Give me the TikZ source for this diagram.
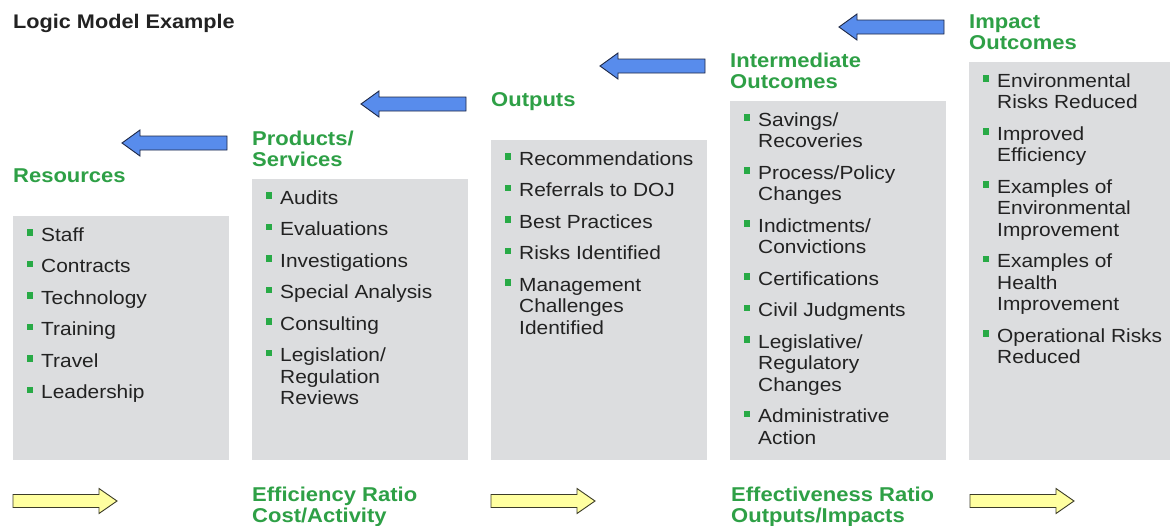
\documentclass[tikz,border=0pt]{standalone}
\usepackage{fontspec}
\setmainfont{Liberation Sans}[FakeStretch=1.1]
\definecolor{hgreen}{RGB}{46,160,70}
\definecolor{bgreen}{RGB}{40,170,70}
\definecolor{boxgray}{RGB}{220,221,223}
\definecolor{txtcol}{RGB}{34,34,34}
\definecolor{arrblue}{RGB}{88,140,236}
\definecolor{arrblueline}{RGB}{30,40,70}
\definecolor{arryel}{RGB}{255,255,160}
\definecolor{arryelline}{RGB}{60,60,40}
\newcommand{\blt}{\leavevmode\llap{\textcolor{bgreen}{\rule[5.5pt]{6.5pt}{6.5pt}}\hspace{8pt}}}
\newcommand{\itemlist}[1]{\vtop{\hsize=200pt\parindent=0pt\parskip=10pt\raggedright #1\par}}
\newcommand{\bluearrow}[2]{\draw[bluearr] (#1,#2) -- ++(18,-13) -- ++(0,6) -- ++(87,0) -- ++(0,14) -- ++(-87,0) -- ++(0,6) -- cycle;}
\newcommand{\yelarrow}[2]{\draw[yelarr] (#1,#2) ++(0,-6.5) -- ++(86,0) -- ++(0,-6) -- ++(18,12.5) -- ++(-18,12.5) -- ++(0,-6) -- ++(-86,0) -- cycle;}
\tikzset{
  graybox/.style={fill=boxgray, draw=none, anchor=north west, minimum width=216pt, inner sep=0pt},
  hdr/.style={anchor=base west, inner sep=0pt, text=hgreen, font=\bfseries\fontsize{20}{21}\selectfont},
  lst/.style={anchor=base west, inner sep=0pt, text=txtcol, font=\fontsize{19}{21.5}\selectfont},
  titlestyle/.style={anchor=base west, inner sep=0pt, text=txtcol, font=\bfseries\fontsize{19.7}{22}\selectfont},
  bluearr/.style={fill=arrblue, draw=arrblueline, line width=0.9pt, line join=miter},
  yelarr/.style={fill=arryel, draw=arryelline, line width=0.9pt, line join=miter}
}
\begin{document}
\begin{tikzpicture}[x=1pt,y=-1pt]
\useasboundingbox (0,0) rectangle (1170,525);
\clip (0,0) rectangle (1170,525);
\fill[white] (0,0) rectangle (1170,525);

\node[titlestyle] (title) at (13,28) {Logic Model Example};

% boxes
\node[graybox, minimum height=244pt] (b1) at (13,216) {};
\node[graybox, minimum height=281pt] (b2) at (252,179) {};
\node[graybox, minimum height=320pt] (b3) at (491,140) {};
\node[graybox, minimum height=359pt] (b4) at (730,101) {};
\node[graybox, minimum height=398pt, minimum width=230pt] (b5) at (969,62) {};

% headers
\node[hdr] (h1) at (13,182.5) {\vtop{\hbox{Resources}}};
\node[hdr] (h2) at (252,145.5) {\vtop{\hbox{Products/}\hbox{Services}}};
\node[hdr] (h3) at (491,106.5) {\vtop{\hbox{Outputs}}};
\node[hdr] (h4) at (730,67.5) {\vtop{\hbox{Intermediate}\hbox{Outcomes}}};
\node[hdr] (h5) at (969,28.5) {\vtop{\hbox{Impact}\hbox{Outcomes}}};

% lists
\node[lst] (l1) at (41,241) {\itemlist{%
\blt Staff\par
\blt Contracts\par
\blt Technology\par
\blt Training\par
\blt Travel\par
\blt Leadership}};
\node[lst] (l2) at (280,204) {\itemlist{%
\blt Audits\par
\blt Evaluations\par
\blt Investigations\par
\blt Special Analysis\par
\blt Consulting\par
\blt Legislation/\\Regulation\\Reviews}};
\node[lst] (l3) at (519,165) {\itemlist{%
\blt Recommendations\par
\blt Referrals to DOJ\par
\blt Best Practices\par
\blt Risks Identified\par
\blt Management\\Challenges\\Identified}};
\node[lst] (l4) at (758,126) {\itemlist{%
\blt Savings/\\Recoveries\par
\blt Process/Policy\\Changes\par
\blt Indictments/\\Convictions\par
\blt Certifications\par
\blt Civil Judgments\par
\blt Legislative/\\Regulatory\\Changes\par
\blt Administrative\\Action}};
\node[lst] (l5) at (997,87) {\itemlist{%
\blt Environmental\\Risks Reduced\par
\blt Improved\\Efficiency\par
\blt Examples of\\Environmental\\Improvement\par
\blt Examples of\\Health\\Improvement\par
\blt Operational Risks\\Reduced}};

% blue arrows (pointing left)
\bluearrow{122}{143}
\bluearrow{361}{104}
\bluearrow{600}{66}
\bluearrow{839}{27}

% yellow arrows (pointing right)
\yelarrow{13}{501}
\yelarrow{491}{501}
\yelarrow{970}{501}

% bottom labels
\node[hdr] (effic) at (252,501) {\vtop{\hbox{Efficiency Ratio}\hbox{Cost/Activity}}};
\node[hdr] (effec) at (731,501) {\vtop{\hbox{Effectiveness Ratio}\hbox{Outputs/Impacts}}};
\end{tikzpicture}
\end{document}
